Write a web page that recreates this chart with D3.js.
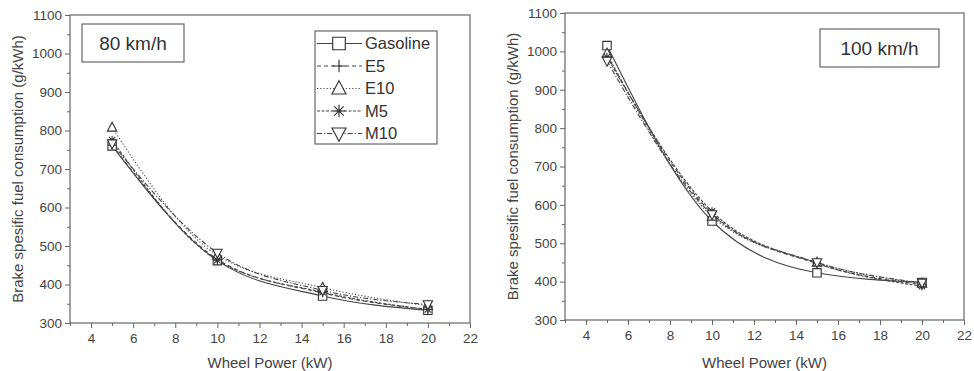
<!DOCTYPE html>
<html>
<head>
<meta charset="utf-8">
<script src="https://cdn.jsdelivr.net/npm/d3@7"></script>
<style>
  body { margin: 0; background: #fff; }
  svg { display: block; font-family: "Liberation Sans", Arial, sans-serif; }
  .axis path, .axis line { stroke: #666; }
  .axis text { fill: #444; font-size: 13.5px; }
</style>
</head>
<body>
<div id="chart"></div>
<script>
// ---------------------------- DATA ----------------------------//
var power = [5, 10, 15, 20];
var fuels = ["Gasoline", "E5", "E10", "M5", "M10"];
var xTicks = [4, 6, 8, 10, 12, 14, 16, 18, 20, 22];
var yTicks = [300, 400, 500, 600, 700, 800, 900, 1000, 1100];

// 80 km/h
var gasoline80 = [760, 462, 370, 333];
var e5_80 = [762, 466, 378, 335];
var e10_80 = [808, 476, 392, 345];
var m5_80 = [775, 463, 380, 335];
var m10_80 = [766, 482, 385, 348];

// 100 km/h
var gasoline100 = [1015, 558, 423, 398];
var e5_100 = [990, 578, 447, 392];
var e10_100 = [995, 570, 450, 395];
var m5_100 = [985, 583, 448, 388];
var m10_100 = [975, 575, 450, 397];

// ---------------------------- SETUP ----------------------------//
const width = 974;
const height = 371;

const svg = d3.select("#chart").append("svg")
    .attr("width", width)
    .attr("height", height);

var lineStyle = {
    "Gasoline": null,
    "E5": "4,3",
    "E10": "1.2,2",
    "M5": "3,1.5",
    "M10": "5,2,1.2,2"
};

// marker shapes, drawn around 0,0
function markerPath(name) {
    var s = 4.2;
    if (name == "Gasoline") return "M" + -s + "," + -s + "H" + s + "V" + s + "H" + -s + "Z";
    if (name == "E5") return "M" + -s + ",0H" + s + "M0," + -s + "V" + s;
    if (name == "E10") return "M0," + (-s - 1) + "L" + (s + 0.5) + "," + (s - 0.5) + "L" + (-s - 0.5) + "," + (s - 0.5) + "Z";
    if (name == "M5") {
        var d = s * 0.75;
        return "M" + -s + ",0H" + s + "M0," + -s + "V" + s +
            "M" + -d + "," + -d + "L" + d + "," + d + "M" + -d + "," + d + "L" + d + "," + -d;
    }
    return "M0," + (s + 1) + "L" + (s + 0.5) + "," + (-s + 0.5) + "L" + (-s - 0.5) + "," + (-s + 0.5) + "Z";
}

function drawPanel(p) {
    var xScale = d3.scaleLinear().domain([3, 22]).range([p.left, p.right]);
    var yScale = d3.scaleLinear().domain([300, 1100]).range([p.bottom, p.top]);

    var g = svg.append("g");

    // frame
    g.append("rect")
        .attr("x", p.left).attr("y", p.top)
        .attr("width", p.right - p.left).attr("height", p.bottom - p.top)
        .attr("fill", "none").attr("stroke", "#666").attr("stroke-width", 1.2);

    // axes
    var minorX = d3.range(3, 22, 2);
    var minorY = d3.range(350, 1100, 100);

    g.append("g").attr("class", "axis")
        .attr("transform", "translate(0," + p.bottom + ")")
        .call(d3.axisBottom(xScale).tickValues(xTicks).tickSize(5).tickSizeOuter(0).tickPadding(5))
        .call(function(a) { a.select(".domain").remove(); });
    g.append("g").attr("class", "axis")
        .attr("transform", "translate(0," + p.bottom + ")")
        .call(d3.axisBottom(xScale).tickValues(minorX).tickSize(3).tickFormat(""))
        .call(function(a) { a.select(".domain").remove(); });

    g.append("g").attr("class", "axis")
        .attr("transform", "translate(" + p.left + ",0)")
        .call(d3.axisLeft(yScale).tickValues(yTicks).tickFormat(d3.format("d")).tickSize(5).tickSizeOuter(0).tickPadding(3))
        .call(function(a) { a.select(".domain").remove(); });
    g.append("g").attr("class", "axis")
        .attr("transform", "translate(" + p.left + ",0)")
        .call(d3.axisLeft(yScale).tickValues(minorY).tickSize(3).tickFormat(""))
        .call(function(a) { a.select(".domain").remove(); });

    // axis titles
    g.append("text")
        .attr("x", (p.left + p.right) / 2).attr("y", 368)
        .attr("text-anchor", "middle")
        .attr("fill", "#444").style("font-size", "15px")
        .text("Wheel Power (kW)");
    g.append("text")
        .attr("transform", "translate(" + p.ylabelX + "," + (p.top + p.bottom) / 2 + ") rotate(-90)")
        .attr("text-anchor", "middle")
        .attr("dy", "0.35em")
        .attr("fill", "#444").style("font-size", "15px")
        .text("Brake spesific fuel consumption (g/kWh)");

    // lines
    var line = d3.line()
        .x(function(d) { return xScale(d[0]); })
        .y(function(d) { return yScale(d[1]); })
        .curve(d3.curveMonotoneX);

    fuels.forEach(function(f, i) {
        var pts = power.map(function(x, j) { return [x, p.values[i][j]]; });
        g.append("path")
            .attr("fill", "none")
            .attr("stroke", "#444")
            .attr("stroke-width", 1.1)
            .attr("stroke-dasharray", lineStyle[f])
            .attr("d", line(pts));
    });
    fuels.forEach(function(f, i) {
        power.forEach(function(x, j) {
            g.append("path")
                .attr("transform", "translate(" + xScale(x) + "," + yScale(p.values[i][j]) + ")")
                .attr("d", markerPath(f))
                .attr("fill", "#fff")
                .attr("stroke", "#333")
                .attr("stroke-width", 1.1);
        });
    });

    // speed label box
    var lb = g.append("g");
    lb.append("rect")
        .attr("x", p.tag.x).attr("y", p.tag.y)
        .attr("width", p.tag.w).attr("height", 38)
        .attr("fill", "#fff").attr("stroke", "#666").attr("stroke-width", 1.2);
    lb.append("text")
        .attr("x", p.tag.x + p.tag.w / 2).attr("y", p.tag.y + 19)
        .attr("dy", "0.35em").attr("text-anchor", "middle")
        .attr("fill", "#333").style("font-size", "19px")
        .text(p.label);

    // legend
    if (p.legend) {
        var lg = g.append("g").attr("transform", "translate(315,31)");
        lg.append("rect")
            .attr("width", 122).attr("height", 113)
            .attr("fill", "#fff").attr("stroke", "#666").attr("stroke-width", 1.2);
        fuels.forEach(function(f, i) {
            var yy = 12.5 + i * 22.5;
            lg.append("line")
                .attr("x1", 2).attr("x2", 47).attr("y1", yy).attr("y2", yy)
                .attr("stroke", "#444").attr("stroke-width", 1.1)
                .attr("stroke-dasharray", lineStyle[f]);
            lg.append("path")
                .attr("transform", "translate(24," + yy + ") scale(1.5)")
                .attr("d", markerPath(f))
                .attr("fill", "#fff").attr("stroke", "#333").attr("stroke-width", 0.75);
            lg.append("text")
                .attr("x", 50).attr("y", yy).attr("dy", "0.36em")
                .attr("fill", "#333").style("font-size", "16.5px")
                .text(f);
        });
    }
}

drawPanel({
    left: 70, right: 470, top: 15, bottom: 323, ylabelX: 18,
    values: [gasoline80, e5_80, e10_80, m5_80, m10_80],
    label: "80 km/h", tag: { x: 82, y: 24, w: 102 }, legend: true
});
drawPanel({
    left: 565, right: 964, top: 13, bottom: 320, ylabelX: 513,
    values: [gasoline100, e5_100, e10_100, m5_100, m10_100],
    label: "100 km/h", tag: { x: 820, y: 29, w: 119 }, legend: false
});
</script>
</body>
</html>
